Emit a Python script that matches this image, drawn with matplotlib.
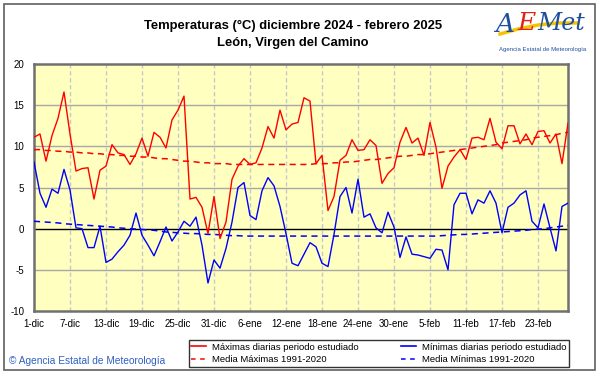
import numpy as np
import matplotlib
matplotlib.use("Agg")
import matplotlib.pyplot as plt
from matplotlib.lines import Line2D
from matplotlib.patches import Rectangle

plt.rcParams['font.family'] = ['Liberation Sans', 'DejaVu Sans']

# ---------------- data ----------------
tick_labels = ["1-dic", "7-dic", "13-dic", "19-dic", "25-dic", "31-dic", "6-ene", "12-ene",
               "18-ene", "24-ene", "30-ene", "5-feb", "11-feb", "17-feb", "23-feb"]

tmax = [11.1, 11.5, 8.2, 11.3, 13.4, 16.6, 11.5, 7.0, 7.3, 7.4,
        3.6, 7.1, 7.6, 10.2, 9.2, 9.0, 7.8, 9.1, 11.0, 8.8,
        11.7, 11.1, 9.8, 13.2, 14.4, 16.1, 3.6, 3.8, 2.6, -0.6,
        3.9, -1.2, 0.8, 6.0, 7.6, 8.5, 7.8, 8.0, 9.8, 12.4,
        11.0, 14.4, 12.0, 12.7, 12.9, 15.9, 15.5, 7.9, 8.9, 2.2,
        3.9, 8.3, 8.9, 10.8, 9.5, 9.6, 10.8, 10.1, 5.5, 6.7,
        7.4, 10.5, 12.3, 10.4, 11.0, 8.9, 12.9, 9.9, 4.9, 7.6,
        8.7, 9.6, 8.4, 11.0, 11.1, 10.8, 13.4, 10.5, 9.7, 12.5,
        12.5, 10.3, 11.5, 10.2, 11.8, 11.9, 10.4, 11.5, 7.9, 12.8]

tmin = [8.1, 4.3, 2.6, 4.8, 4.3, 7.2, 4.7, 0.1, 0.0, -2.3,
        -2.3, 0.3, -4.1, -3.7, -2.8, -2.0, -0.8, 1.9, -0.8, -2.0,
        -3.3, -1.6, 0.2, -1.5, -0.4, 0.9, 0.3, 1.4, -2.0, -6.6,
        -3.8, -4.8, -2.4, 0.8, 5.0, 5.6, 1.6, 1.1, 4.6, 6.2,
        5.2, 2.7, -0.6, -4.2, -4.5, -3.1, -1.7, -2.2, -4.2, -4.6,
        -0.7, 3.9, 5.0, 1.9, 6.0, 1.4, 1.8, 0.1, -0.5, 2.0,
        0.2, -3.5, -1.0, -3.1, -3.2, -3.4, -3.6, -2.5, -2.6, -5.0,
        2.9, 4.3, 4.3, 1.8, 3.5, 3.1, 4.6, 3.1, -0.5, 2.6,
        3.1, 4.1, 4.6, 0.9, 0.1, 3.0, 0.1, -2.7, 2.7, 3.1]

mean_max = [9.6, 9.6, 9.5, 9.5, 9.4, 9.4, 9.3, 9.3, 9.2, 9.2,
            9.1, 9.1, 9.0, 9.0, 8.9, 8.9, 8.8, 8.8, 8.7, 8.7,
            8.6, 8.5, 8.5, 8.4, 8.3, 8.2, 8.2, 8.1, 8.0, 8.0,
            7.9, 7.9, 7.9, 7.8, 7.8, 7.8, 7.8, 7.8, 7.8, 7.8,
            7.8, 7.8, 7.8, 7.8, 7.8, 7.8, 7.8, 7.9, 7.9, 7.9,
            8.0, 8.0, 8.1, 8.1, 8.2, 8.3, 8.4, 8.4, 8.5, 8.6,
            8.7, 8.8, 8.8, 8.9, 9.0, 9.0, 9.1, 9.2, 9.3, 9.4,
            9.5, 9.6, 9.7, 9.8, 9.9, 10.0, 10.1, 10.2, 10.4, 10.5,
            10.6, 10.7, 10.8, 11.0, 11.1, 11.2, 11.3, 11.4, 11.6, 11.7]

mean_min = [0.9, 0.85, 0.8, 0.75, 0.7, 0.6, 0.55, 0.5, 0.45, 0.4,
            0.35, 0.3, 0.25, 0.2, 0.1, 0.05, 0.0, -0.05, -0.1, -0.15,
            -0.2, -0.3, -0.4, -0.45, -0.5, -0.55, -0.6, -0.6, -0.65, -0.7,
            -0.7, -0.75, -0.8, -0.85, -0.85, -0.9, -0.9, -0.9, -0.9, -0.9,
            -0.9, -0.9, -0.9, -0.9, -0.9, -0.9, -0.9, -0.9, -0.9, -0.9,
            -0.9, -0.9, -0.9, -0.9, -0.9, -0.9, -0.9, -0.9, -0.9, -0.9,
            -0.9, -0.9, -0.9, -0.9, -0.9, -0.9, -0.9, -0.9, -0.85, -0.8,
            -0.75, -0.7, -0.7, -0.65, -0.6, -0.55, -0.5, -0.45, -0.4, -0.35,
            -0.3, -0.25, -0.2, -0.1, -0.05, 0.0, 0.1, 0.2, 0.3, 0.4]

y_ticks = [-10, -5, 0, 5, 10, 15, 20]

# ---------------- figure ----------------
W, H = 601, 374
fig = plt.figure(figsize=(W / 100, H / 100), dpi=100)
fig.patch.set_facecolor('white')

# outer frame
fig.add_artist(Rectangle((4 / W, 1 - 370 / H), 591 / W, 366 / H, transform=fig.transFigure,
                         fill=False, edgecolor='#606060', lw=1.2))

L, R, T, B = 34, 568, 64, 311
ax = fig.add_axes([L / W, 1 - B / H, (R - L) / W, (B - T) / H])
ax.set_facecolor('#FFFFC0')

days = np.arange(len(tmax))
ax.set_xlim(0, len(tmax) - 1)
ax.set_ylim(-10, 20)

xt = np.arange(0, 6 * len(tick_labels), 6)
ax.set_xticks(xt)
ax.set_xticklabels(tick_labels, fontsize=7)
ax.set_yticks(y_ticks)
ax.set_yticklabels([str(v) for v in y_ticks], fontsize=7)
ax.tick_params(length=0, pad=6)
ax.tick_params(axis='y', pad=7)

for x in xt[1:]:
    ax.axvline(x, color='#C8C8C8', lw=1.0, ls=(0, (3, 2)), zorder=1)
for y in y_ticks[1:-1]:
    if y == 0:
        ax.axhline(0, color='black', lw=1.0, zorder=2)
    else:
        ax.axhline(y, color='#A8A8A8', lw=1.0, zorder=1)

ax.plot(days, mean_max, color='#FF0000', lw=1.1, ls=(0, (4, 3)), zorder=3)
ax.plot(days, mean_min, color='#0000FF', lw=1.1, ls=(0, (4, 3)), zorder=3)
ax.plot(days, tmax, color='#FF0000', lw=1.0, zorder=4)
ax.plot(days, tmin, color='#0000FF', lw=1.0, zorder=4)

for s in ax.spines.values():
    s.set_color('#707070')
    s.set_linewidth(1.8)

# titles
fig.text(293 / W, 1 - 26 / H, "Temperaturas (°C) diciembre 2024 - febrero 2025",
         ha='center', va='center', fontsize=9.4, fontweight='bold')
fig.text(293 / W, 1 - 43 / H, "León, Virgen del Camino",
         ha='center', va='center', fontsize=9.4, fontweight='bold')

# logo (approximation)
sw_x = np.array([500, 518, 538, 558, 578]) / W
sw_y = 1 - np.array([34, 29, 25, 23, 23]) / H
fig.add_artist(Line2D(sw_x, sw_y, color='#F5C400', lw=2.5, transform=fig.transFigure))
fig.text(495 / W, 1 - 24 / H, "A", color='#1F4E9E', fontsize=19, style='italic',
         ha='left', va='center', family=['DejaVu Serif'])
fig.text(517 / W, 1 - 24 / H, "E", color='#E2231A', fontsize=18, style='italic',
         ha='left', va='center', family=['DejaVu Serif'])
fig.text(537 / W, 1 - 23 / H, "Met", color='#1F4E9E', fontsize=17, style='italic',
         ha='left', va='center', family=['DejaVu Serif'])
fig.text(543 / W, 1 - 49 / H, "Agencia Estatal de Meteorología", color='#1F4E9E',
         fontsize=4.3, ha='center', va='center')

# copyright
fig.text(9 / W, 1 - 361 / H, "© Agencia Estatal de Meteorología", color='#3060C0',
         fontsize=7.3, ha='left', va='center')

# legend
handles = [
    Line2D([], [], color='#FF0000', lw=1.2),
    Line2D([], [], color='#FF0000', lw=1.1, ls=(0, (3, 3))),
    Line2D([], [], color='#0000FF', lw=1.2),
    Line2D([], [], color='#0000FF', lw=1.1, ls=(0, (3, 3))),
]
labels = ["Máximas diarias periodo estudiado", "Media Máximas 1991-2020",
          "Mínimas diarias periodo estudiado", "Media Mínimas 1991-2020"]
x0, x1, y0, y1 = 189, 569, 338, 369
leg = fig.legend(handles, labels, ncol=2, fontsize=6.8,
                 bbox_to_anchor=(x0 / W, 1 - y1 / H, (x1 - x0) / W, (y1 - y0) / H),
                 loc='center', mode='expand', frameon=True, fancybox=False,
                 handlelength=1.6, handletextpad=0.6, labelspacing=0.4,
                 borderpad=0.25, columnspacing=2.0, borderaxespad=0)
leg.get_frame().set_edgecolor('black')
leg.get_frame().set_linewidth(1.0)

fig.savefig("out.png", dpi=100)
